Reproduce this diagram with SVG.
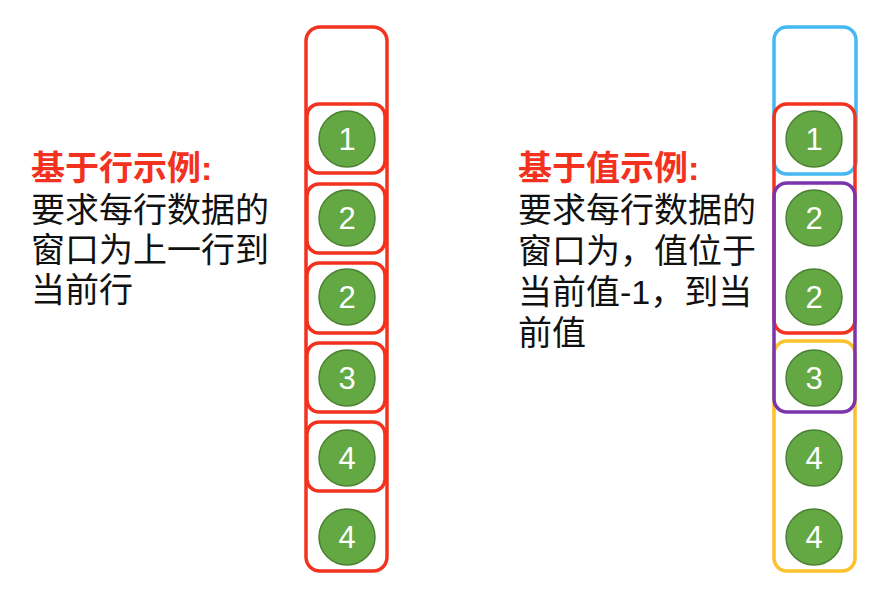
<svg xmlns="http://www.w3.org/2000/svg" width="896" height="592" viewBox="0 0 896 592">
<style>
.box{fill:none;stroke-width:3.5}
.red{stroke:#f2321e}
.blue{stroke:#43b8f2}
.purple{stroke:#7a35ad}
.orange{stroke:#fcc12d}
.ball circle{fill:#63a843;stroke:#4c8033;stroke-width:1.5}
.ball text{fill:#fff;font-family:"Liberation Sans",Arial,sans-serif;font-size:31px;text-anchor:middle}
.t{font-family:"Liberation Sans","Noto Sans CJK SC",sans-serif;font-size:34px;fill:#111}
.h{fill:#f2321e;font-weight:bold}
</style>
<rect width="896" height="592" fill="#fff"/>
<g id="left-text">
<text class="t h" x="31" y="180">基于行示例:</text>
<text class="t" x="31" y="222">要求每行数据的</text>
<text class="t" x="31" y="262">窗口为上一行到</text>
<text class="t" x="31" y="302">当前行</text>
</g>
<g id="right-text">
<text class="t h" x="518" y="180">基于值示例:</text>
<text class="t" x="518" y="222">要求每行数据的</text>
<text class="t" x="518" y="263">窗口为，值位于</text>
<text class="t" x="518" y="304">当前值-1，到当</text>
<text class="t" x="518" y="345">前值</text>
</g>
<g id="left-column">
<rect class="box red" x="306" y="27" width="81" height="544" rx="14"/>
<rect class="box red" x="307" y="104" width="78" height="69" rx="12"/>
<rect class="box red" x="307" y="184" width="78" height="69" rx="12"/>
<rect class="box red" x="307" y="263" width="78" height="70" rx="12"/>
<rect class="box red" x="307" y="343" width="78" height="69" rx="12"/>
<rect class="box red" x="307" y="422" width="78" height="69" rx="12"/>
</g>
<g id="left-balls">
<g class="ball" id="l1"><circle cx="347" cy="139" r="28"/><text x="347" y="150">1</text></g>
<g class="ball" id="l2"><circle cx="347" cy="218" r="28"/><text x="347" y="229">2</text></g>
<g class="ball" id="l3"><circle cx="347" cy="297" r="28"/><text x="347" y="308">2</text></g>
<g class="ball" id="l4"><circle cx="347" cy="378" r="28"/><text x="347" y="389">3</text></g>
<g class="ball" id="l5"><circle cx="347" cy="458" r="28"/><text x="347" y="469">4</text></g>
<g class="ball" id="l6"><circle cx="347" cy="537" r="28"/><text x="347" y="548">4</text></g>
</g>
<g id="right-column">
<rect class="box blue" x="774" y="27" width="82" height="147" rx="13"/>
<rect class="box red" x="774" y="104" width="81" height="229" rx="13"/>
<rect class="box orange" x="774" y="341" width="81" height="230" rx="13"/>
<rect class="box purple" x="774" y="183" width="81" height="229" rx="13"/>
</g>
<g id="right-balls">
<g class="ball" id="r1"><circle cx="814" cy="139" r="28"/><text x="814" y="150">1</text></g>
<g class="ball" id="r2"><circle cx="814" cy="218" r="28"/><text x="814" y="229">2</text></g>
<g class="ball" id="r3"><circle cx="814" cy="297" r="28"/><text x="814" y="308">2</text></g>
<g class="ball" id="r4"><circle cx="814" cy="378" r="28"/><text x="814" y="389">3</text></g>
<g class="ball" id="r5"><circle cx="814" cy="458" r="28"/><text x="814" y="469">4</text></g>
<g class="ball" id="r6"><circle cx="814" cy="537" r="28"/><text x="814" y="548">4</text></g>
</g>
</svg>
